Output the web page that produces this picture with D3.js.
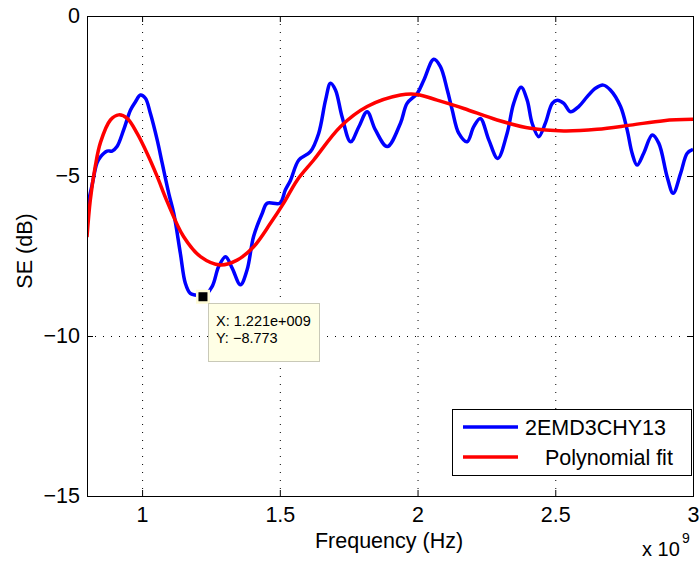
<!DOCTYPE html>
<html><head><meta charset="utf-8">
<script src="https://cdn.jsdelivr.net/npm/d3@7"></script>
<style>
body{margin:0;background:#fff;}
text{font-family:"Liberation Sans",Arial,Helvetica,sans-serif;}
</style></head>
<body><svg id="c" width="699" height="563"></svg>
<script>
// Frequency in units of 1e9 Hz
const blueX = [0.800,0.818,0.836,0.849,0.873,0.891,0.909,0.933,0.958,0.976,0.994,1.012,1.030,1.055,1.073,1.097,1.115,1.139,1.157,1.175,1.194,1.221,1.254,1.278,1.303,1.327,1.357,1.381,1.405,1.436,1.454,1.500,1.520,1.539,1.569,1.611,1.641,1.666,1.684,1.702,1.726,1.757,1.787,1.817,1.847,1.890,1.938,1.962,1.999,2.023,2.059,2.083,2.108,2.126,2.150,2.180,2.204,2.228,2.259,2.291,2.325,2.349,2.376,2.398,2.416,2.440,2.464,2.489,2.507,2.531,2.555,2.585,2.616,2.646,2.674,2.700,2.737,2.761,2.779,2.797,2.821,2.852,2.876,2.906,2.928,2.955,2.979,3.000];
const blueY = [-6.00,-5.30,-4.60,-4.40,-4.22,-4.22,-4.08,-3.56,-2.94,-2.68,-2.47,-2.57,-3.04,-3.88,-4.60,-5.55,-6.17,-7.42,-8.35,-8.67,-8.72,-8.773,-8.46,-7.83,-7.52,-7.88,-8.40,-7.94,-6.88,-6.17,-5.85,-5.85,-5.44,-5.13,-4.50,-4.24,-3.67,-2.63,-2.10,-2.31,-3.15,-3.93,-3.46,-2.99,-3.56,-4.08,-3.35,-2.73,-2.42,-2.00,-1.35,-1.58,-2.31,-2.94,-3.67,-3.93,-3.46,-3.20,-3.88,-4.45,-3.67,-2.73,-2.23,-2.63,-3.35,-3.77,-3.35,-2.73,-2.63,-2.73,-2.99,-2.83,-2.52,-2.26,-2.16,-2.31,-2.83,-3.56,-4.29,-4.66,-4.29,-3.72,-3.98,-5.02,-5.54,-4.92,-4.29,-4.17];
const redX = [0.800,0.812,0.830,0.849,0.885,0.915,0.946,0.982,1.018,1.055,1.091,1.151,1.212,1.284,1.345,1.405,1.466,1.514,1.563,1.623,1.720,1.817,1.938,1.999,2.071,2.168,2.289,2.410,2.531,2.652,2.773,2.894,3.000];
const redY = [-6.91,-5.75,-4.70,-3.95,-3.25,-3.09,-3.20,-3.67,-4.29,-5.02,-5.80,-6.90,-7.52,-7.78,-7.63,-7.21,-6.48,-5.85,-5.13,-4.50,-3.46,-2.83,-2.47,-2.45,-2.63,-2.89,-3.25,-3.51,-3.59,-3.54,-3.41,-3.27,-3.23];
const seriesNames = ["2EMD3CHY13","Polynomial fit"];
const seriesColors = ["#0000ff","#ff0000"];
const xTicks = [1,1.5,2,2.5,3];
const yTicks = [0,-5,-10,-15];
const dataTip = {x:1.221, y:-8.773, xLabel:"X: 1.221e+009", yLabel:"Y: \u22128.773"};

const svg = d3.select("#c");
const L=87, T=16, R=693, B=496;
const FS = 21.5;
const x = d3.scaleLinear().domain([0.8,3]).range([L,R]);
const y = d3.scaleLinear().domain([-15,0]).range([B,T]);
const fmt = v => (v<0? "\u2212"+Math.abs(v) : String(v));

// grid
const g = svg.append("g");
g.selectAll(".gx").data(xTicks.filter(v=>v<3)).enter().append("line")
 .attr("x1",d=>x(d)+0.5).attr("x2",d=>x(d)+0.5).attr("y1",T).attr("y2",B)
 .attr("stroke","#000").attr("stroke-width",1).attr("stroke-dasharray","1,7");
g.selectAll(".gy").data(yTicks.filter(v=>v>-15 && v<0)).enter().append("line")
 .attr("y1",d=>y(d)+0.5).attr("y2",d=>y(d)+0.5).attr("x1",L).attr("x2",R)
 .attr("stroke","#000").attr("stroke-width",1).attr("stroke-dasharray","1,7");

// axes
const xAxis = d3.axisBottom(x).tickValues(xTicks).tickSize(-6).tickPadding(11).tickFormat(fmt);
const yAxis = d3.axisLeft(y).tickValues(yTicks).tickSize(-6).tickPadding(7).tickFormat(fmt);
const xa = svg.append("g").attr("transform",`translate(0,${B})`).call(xAxis);
const ya = svg.append("g").attr("transform",`translate(${L},0)`).call(yAxis);
const xt = svg.append("g").attr("transform",`translate(0,${T})`).call(d3.axisTop(x).tickValues(xTicks).tickSize(-6).tickFormat(""));
const yr = svg.append("g").attr("transform",`translate(${R},0)`).call(d3.axisRight(y).tickValues(yTicks).tickSize(-6).tickFormat(""));
[xa,ya,xt,yr].forEach(a=>{a.select(".domain").remove(); a.selectAll("line").attr("stroke","#000");});
[xa,ya].forEach(a=>a.selectAll("text").attr("font-size",FS).attr("fill","#000").attr("font-family","Liberation Sans, Arial, sans-serif"));

// lines
const line = d3.line().x(d=>x(d[0])).y(d=>y(d[1])).curve(d3.curveCatmullRom.alpha(0.5));
svg.append("clipPath").attr("id","clp").append("rect").attr("x",L).attr("y",T).attr("width",R-L).attr("height",B-T);
svg.append("path").datum(blueX.map((v,i)=>[v,blueY[i]])).attr("d",line)
 .attr("fill","none").attr("stroke",seriesColors[0]).attr("stroke-width",3.5).attr("stroke-linejoin","round").attr("clip-path","url(#clp)");
svg.append("path").datum(redX.map((v,i)=>[v,redY[i]])).attr("d",line)
 .attr("fill","none").attr("stroke",seriesColors[1]).attr("stroke-width",3.5).attr("stroke-linejoin","round").attr("clip-path","url(#clp)");

// box
svg.append("rect").attr("x",L+0.5).attr("y",T+0.5).attr("width",R-L).attr("height",B-T)
 .attr("fill","none").attr("stroke","#000").attr("stroke-width",1);

// datatip
const mx = x(dataTip.x), my = y(dataTip.y);
svg.append("rect").attr("x",mx-7).attr("y",my-7).attr("width",14).attr("height",14).attr("fill","#fffbd6");
svg.append("rect").attr("x",mx-4.5).attr("y",my-4.5).attr("width",9).attr("height",9).attr("fill","#000");
svg.append("rect").attr("x",208.5).attr("y",303.5).attr("width",111).attr("height",58)
 .attr("fill","#ffffe6").attr("stroke","#c9c9b8").attr("stroke-width",1);
svg.append("text").attr("x",216).attr("y",326).attr("font-size",14.5).text(dataTip.xLabel);
svg.append("text").attr("x",216).attr("y",343).attr("font-size",14.5).text(dataTip.yLabel);

// legend
svg.append("rect").attr("x",452.5).attr("y",409.5).attr("width",239).attr("height",66)
 .attr("fill","#fff").attr("stroke","#000").attr("stroke-width",1);
const legY=[427,457], legTY=[435,465], legTX=[525,545];
seriesNames.forEach((n,i)=>{
  svg.append("line").attr("x1",463).attr("x2",518).attr("y1",legY[i]).attr("y2",legY[i])
   .attr("stroke",seriesColors[i]).attr("stroke-width",3.5);
  svg.append("text").attr("x",legTX[i]).attr("y",legTY[i]).attr("font-size",FS).text(n);
});

// labels
svg.append("text").attr("x",389).attr("y",548).attr("text-anchor","middle").attr("font-size",FS).text("Frequency (Hz)");
svg.append("text").attr("transform","translate(31.5,251) rotate(-90)").attr("text-anchor","middle").attr("font-size",FS).text("SE (dB)");
svg.append("text").attr("x",642).attr("y",556).attr("font-size",20).text("x 10");
svg.append("text").attr("x",682).attr("y",543).attr("font-size",14).text("9");
</script></body></html>
